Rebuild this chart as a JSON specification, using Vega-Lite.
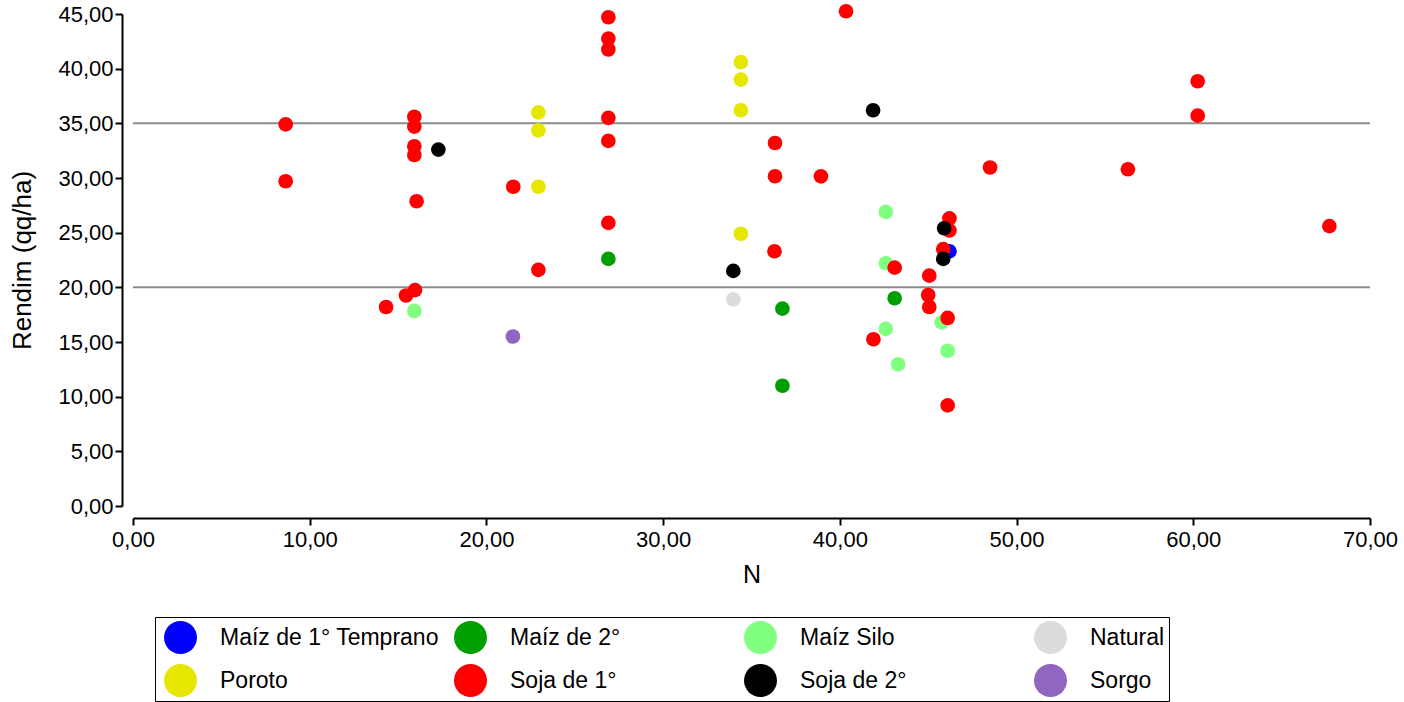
{
  "$schema": "https://vega.github.io/schema/vega-lite/v6.json",
  "width": 1237,
  "height": 492,
  "autosize": {"type": "none"},
  "padding": {"left": 133, "top": 14, "right": 34, "bottom": 196},
  "background": "white",
  "config": {"view": {"stroke": null}, "font": "Liberation Sans"},
  "layer": [
    {
      "data": {"values": [{"ref": 20}, {"ref": 35}]},
      "mark": {"type": "rule", "color": "#8c8c8c", "strokeWidth": 2},
      "encoding": {
        "y": {"field": "ref", "type": "quantitative", "scale": {"domain": [0, 45], "nice": false}}
      }
    },
    {
      "data": {
        "values": [
          {"Cultivo": "Maíz de 1° Temprano", "N": 46.2, "Rendim": 23.3},
          {"Cultivo": "Maíz Silo", "N": 15.92, "Rendim": 17.84},
          {"Cultivo": "Maíz Silo", "N": 42.6, "Rendim": 26.9},
          {"Cultivo": "Maíz Silo", "N": 42.6, "Rendim": 22.2},
          {"Cultivo": "Maíz Silo", "N": 42.6, "Rendim": 16.2},
          {"Cultivo": "Maíz Silo", "N": 43.3, "Rendim": 12.96},
          {"Cultivo": "Maíz Silo", "N": 46.1, "Rendim": 14.2},
          {"Cultivo": "Maíz Silo", "N": 45.76, "Rendim": 16.8},
          {"Cultivo": "Maíz de 2°", "N": 26.9, "Rendim": 22.6},
          {"Cultivo": "Maíz de 2°", "N": 36.75, "Rendim": 18.05},
          {"Cultivo": "Maíz de 2°", "N": 36.75, "Rendim": 11.0},
          {"Cultivo": "Maíz de 2°", "N": 43.1, "Rendim": 19.0},
          {"Cultivo": "Natural", "N": 33.97, "Rendim": 18.9},
          {"Cultivo": "Poroto", "N": 22.94, "Rendim": 36.0},
          {"Cultivo": "Poroto", "N": 22.94, "Rendim": 34.36},
          {"Cultivo": "Poroto", "N": 22.94, "Rendim": 29.2},
          {"Cultivo": "Poroto", "N": 34.4, "Rendim": 40.6},
          {"Cultivo": "Poroto", "N": 34.4, "Rendim": 39.0},
          {"Cultivo": "Poroto", "N": 34.4, "Rendim": 36.2},
          {"Cultivo": "Poroto", "N": 34.4, "Rendim": 24.9},
          {"Cultivo": "Sorgo", "N": 21.5, "Rendim": 15.5},
          {"Cultivo": "Soja de 1°", "N": 8.64, "Rendim": 34.9},
          {"Cultivo": "Soja de 1°", "N": 8.64, "Rendim": 29.7},
          {"Cultivo": "Soja de 1°", "N": 14.32, "Rendim": 18.2},
          {"Cultivo": "Soja de 1°", "N": 15.45, "Rendim": 19.25},
          {"Cultivo": "Soja de 1°", "N": 15.96, "Rendim": 19.75},
          {"Cultivo": "Soja de 1°", "N": 15.92, "Rendim": 35.6},
          {"Cultivo": "Soja de 1°", "N": 15.92, "Rendim": 34.7},
          {"Cultivo": "Soja de 1°", "N": 15.92, "Rendim": 32.9},
          {"Cultivo": "Soja de 1°", "N": 15.92, "Rendim": 32.1},
          {"Cultivo": "Soja de 1°", "N": 16.05, "Rendim": 27.87},
          {"Cultivo": "Soja de 1°", "N": 21.52, "Rendim": 29.2},
          {"Cultivo": "Soja de 1°", "N": 22.94, "Rendim": 21.6},
          {"Cultivo": "Soja de 1°", "N": 26.9, "Rendim": 44.7},
          {"Cultivo": "Soja de 1°", "N": 26.9, "Rendim": 42.75},
          {"Cultivo": "Soja de 1°", "N": 26.9, "Rendim": 41.75},
          {"Cultivo": "Soja de 1°", "N": 26.9, "Rendim": 35.5},
          {"Cultivo": "Soja de 1°", "N": 26.9, "Rendim": 33.4},
          {"Cultivo": "Soja de 1°", "N": 26.9, "Rendim": 25.9},
          {"Cultivo": "Soja de 1°", "N": 36.33, "Rendim": 33.2},
          {"Cultivo": "Soja de 1°", "N": 36.33, "Rendim": 30.16},
          {"Cultivo": "Soja de 1°", "N": 36.3, "Rendim": 23.3},
          {"Cultivo": "Soja de 1°", "N": 38.93, "Rendim": 30.15},
          {"Cultivo": "Soja de 1°", "N": 40.35, "Rendim": 45.25},
          {"Cultivo": "Soja de 1°", "N": 41.9, "Rendim": 15.25},
          {"Cultivo": "Soja de 1°", "N": 43.1, "Rendim": 21.8},
          {"Cultivo": "Soja de 1°", "N": 45.06, "Rendim": 21.07},
          {"Cultivo": "Soja de 1°", "N": 45.0, "Rendim": 19.3},
          {"Cultivo": "Soja de 1°", "N": 45.06, "Rendim": 18.2},
          {"Cultivo": "Soja de 1°", "N": 45.85, "Rendim": 23.5},
          {"Cultivo": "Soja de 1°", "N": 46.2, "Rendim": 26.3},
          {"Cultivo": "Soja de 1°", "N": 46.2, "Rendim": 25.2},
          {"Cultivo": "Soja de 1°", "N": 46.1, "Rendim": 17.2},
          {"Cultivo": "Soja de 1°", "N": 46.1, "Rendim": 9.2},
          {"Cultivo": "Soja de 1°", "N": 48.5, "Rendim": 30.96},
          {"Cultivo": "Soja de 1°", "N": 56.3, "Rendim": 30.8},
          {"Cultivo": "Soja de 1°", "N": 60.25, "Rendim": 38.85},
          {"Cultivo": "Soja de 1°", "N": 60.25, "Rendim": 35.7},
          {"Cultivo": "Soja de 1°", "N": 67.7, "Rendim": 25.6},
          {"Cultivo": "Soja de 2°", "N": 17.28, "Rendim": 32.6},
          {"Cultivo": "Soja de 2°", "N": 33.97, "Rendim": 21.5},
          {"Cultivo": "Soja de 2°", "N": 41.88, "Rendim": 36.2},
          {"Cultivo": "Soja de 2°", "N": 45.9, "Rendim": 25.4},
          {"Cultivo": "Soja de 2°", "N": 45.85, "Rendim": 22.6}
        ]
      },
      "mark": {"type": "circle", "size": 215, "opacity": 1},
      "encoding": {
        "x": {
          "field": "N",
          "type": "quantitative",
          "scale": {"domain": [0, 70], "nice": false},
          "axis": {
            "title": "N",
            "values": [0, 10, 20, 30, 40, 50, 60, 70],
            "grid": false,
            "offset": 12,
            "domainColor": "black",
            "domainWidth": 2,
            "tickColor": "black",
            "tickWidth": 2,
            "tickSize": 7,
            "labelFontSize": 22,
            "labelColor": "black",
            "labelPadding": 4,
            "labelFlush": false,
            "labelOverlap": false,
            "labelExpr": "replace(format(datum.value, '.2f'), '.', ',')",
            "titleFontSize": 25,
            "titleFontWeight": "normal",
            "titleColor": "black",
            "titlePadding": 12
          }
        },
        "y": {
          "field": "Rendim",
          "type": "quantitative",
          "scale": {"domain": [0, 45], "nice": false},
          "axis": {
            "title": "Rendim (qq/ha)",
            "values": [0, 5, 10, 15, 20, 25, 30, 35, 40, 45],
            "grid": false,
            "offset": 11,
            "domainColor": "black",
            "domainWidth": 2,
            "tickColor": "black",
            "tickWidth": 2,
            "tickSize": 7,
            "labelFontSize": 22,
            "labelColor": "black",
            "labelPadding": 2,
            "labelFlush": false,
            "labelOverlap": false,
            "labelExpr": "replace(format(datum.value, '.2f'), '.', ',')",
            "titleFontSize": 26,
            "titleFontWeight": "normal",
            "titleColor": "black",
            "titlePadding": 22
          }
        },
        "color": {
          "field": "Cultivo",
          "type": "nominal",
          "scale": {
            "domain": ["Maíz de 1° Temprano", "Maíz de 2°", "Maíz Silo", "Natural", "Poroto", "Soja de 1°", "Soja de 2°", "Sorgo"],
            "range": ["#0000FF", "#009F00", "#80FF80", "#DCDCDC", "#E6E600", "#FF0000", "#000000", "#9066C0"]
          },
          "legend": {
            "title": null,
            "orient": "none",
            "legendX": 22,
            "legendY": 603,
            "direction": "horizontal",
            "columns": 4,
            "gridAlign": "all",
            "symbolType": "circle",
            "symbolSize": 1089,
            "symbolStrokeWidth": 0,
            "symbolOpacity": 1,
            "labelFontSize": 23,
            "labelFont": "Liberation Sans",
            "labelColor": "black",
            "labelLimit": 400,
            "labelOffset": 23,
            "columnPadding": 10,
            "rowPadding": 10,
            "padding": 4,
            "symbolOffset": 5,
            "strokeColor": "black"
          }
        }
      }
    }
  ]
}
